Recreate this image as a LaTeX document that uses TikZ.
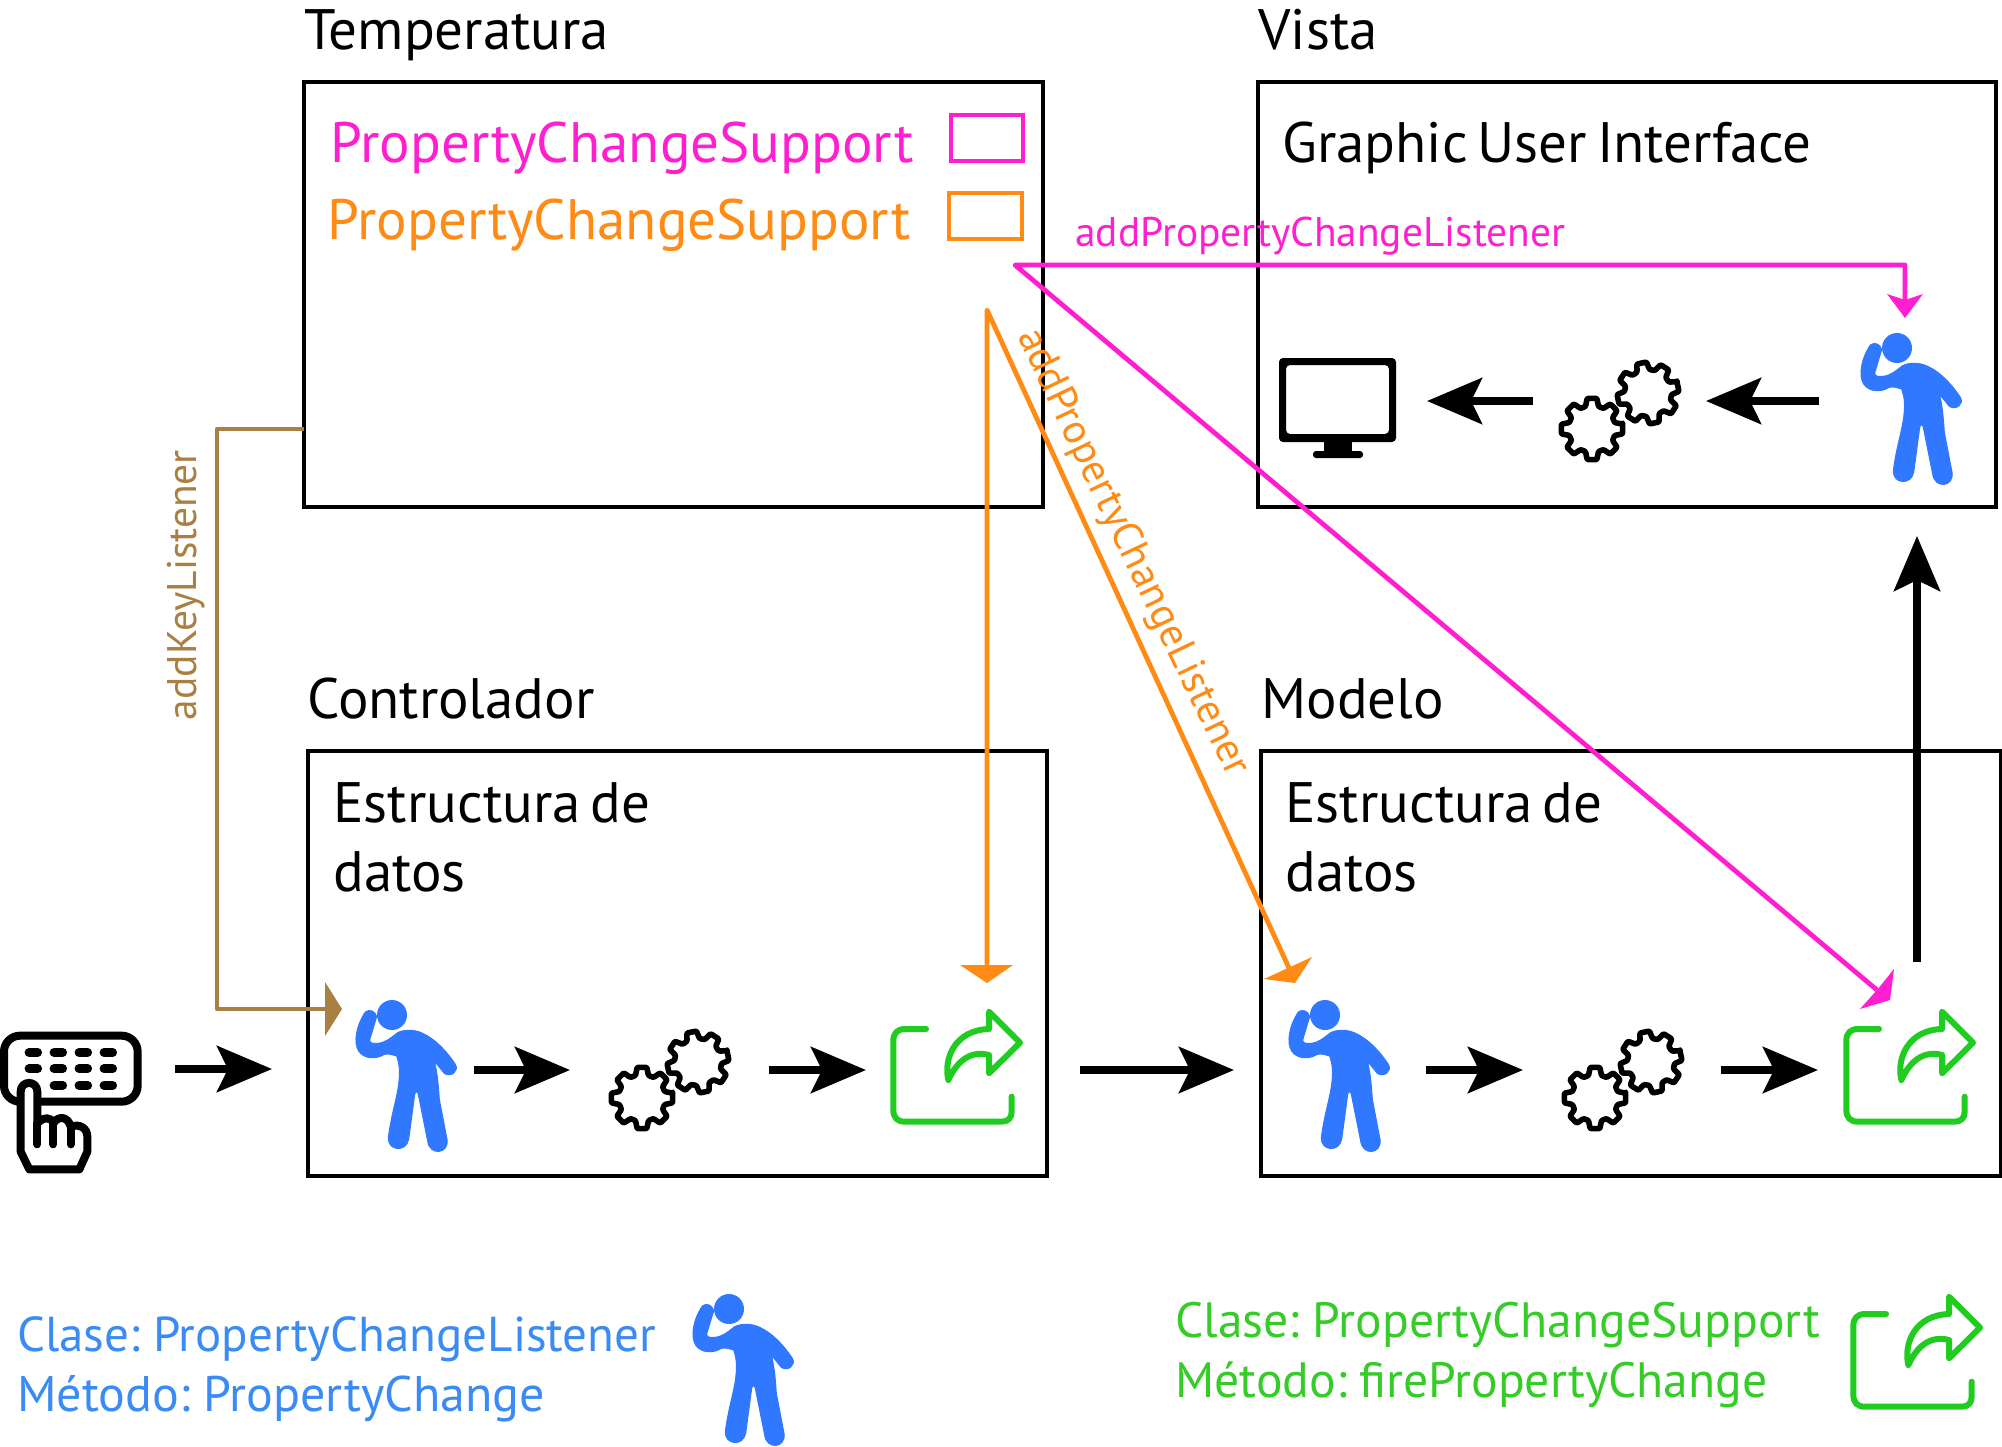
\documentclass[tikz,border=0pt]{standalone}
\usepackage{fontspec}
\setmainfont{PT Sans}[WordSpace=0.65]
\usetikzlibrary{arrows.meta,calc}
\definecolor{bluep}{HTML}{2F78FF}
\definecolor{bluet}{HTML}{3B8BF5}
\definecolor{greenp}{HTML}{1FCC1F}
\definecolor{greent}{HTML}{35CC28}
\definecolor{magp}{HTML}{FF1FD0}
\definecolor{orgp}{HTML}{FF8A14}
\definecolor{brwn}{HTML}{A97F42}
\newcommand{\bigfs}{\fontsize{28.5}{33}\selectfont}
\newcommand{\legfs}{\fontsize{24.8}{29}\selectfont}
\newcommand{\legsfs}{\fontsize{24.5}{29}\selectfont}
\newcommand{\legbfs}{\fontsize{25}{29}\selectfont}
\newcommand{\smallfs}{\fontsize{20.7}{24}\selectfont}
\tikzset{
  boxn/.style={draw=black,line width=2pt,inner sep=0pt,outer sep=0pt,anchor=north west,fill=none},
  txt/.style={anchor=base west,inner sep=0pt,font=\bigfs},
  legtxt/.style={anchor=base west,inner sep=0pt,font=\legfs},
  lab/.style={inner sep=0pt,font=\smallfs},
  blackarrow/.style={line width=4pt,-{Stealth[length=27.5pt,width=23pt,inset=5.5pt]}},
  magline/.style={draw=magp,line width=2.4pt,line join=round},
  orgline/.style={draw=orgp,line width=2.4pt,line join=round},
  pics/personicon/.style={code={
    \begin{scope}[scale=1/3,shift={(-208,-57)}]
      \fill[bluep] (208,57) circle (45);
      \filldraw[bluep,line width=0.5pt,line join=round] (128,48) .. controls (140,38) and (158,45) .. (162,62)
        -- (141,132) .. controls (141,142) and (150,143) .. (165,142)
        .. controls (190,140) and (205,125) .. (225,110)
        .. controls (245,100) and (275,100) .. (300,112)
        .. controls (340,130) and (375,170) .. (398,205)
        .. controls (410,225) and (385,245) .. (365,232)
        -- (335,195) .. controls (345,235) and (347,270) .. (350,310)
        -- (373,430) .. controls (380,475) and (320,480) .. (315,435)
        -- (287,295) .. controls (285,285) and (278,285) .. (276,295)
        -- (258,430) .. controls (250,470) and (195,465) .. (197,425)
        .. controls (205,360) and (222,310) .. (228,265)
        .. controls (232,230) and (232,210) .. (222,180)
        .. controls (205,175) and (195,172) .. (185,175)
        .. controls (160,190) and (125,190) .. (108,165)
        .. controls (92,140) and (100,90) .. (128,48) -- cycle;
    \end{scope}}},
  pics/shareicon/.style={code={
    \begin{scope}[scale=1/3]
      \draw[greenp,line width=3pt,line cap=round,line join=round]
        (138,102) -- (75,102) .. controls (52,102) and (40,115) .. (40,137)
        -- (40,345) .. controls (40,368) and (52,380) .. (75,380)
        -- (365,380) .. controls (385,380) and (395,368) .. (395,350) -- (395,305);
      \draw[greenp,line width=3pt,line cap=round,line join=round]
        (205,255) .. controls (190,190) and (225,105) .. (327,102)
        -- (327,50) -- (420,143) -- (327,235) -- (327,180)
        .. controls (270,165) and (230,200) .. (205,255) -- cycle;
    \end{scope}}},
  pics/gearicon/.style={code={
    \draw[line width=2.8pt,line join=round,rounded corners=0.5pt]
      (-9:31) \foreach \a in {0,45,...,315} { -- (\a-9:31) -- (\a+9:31) -- (\a+16:23.5) -- (\a+29:23.5)} -- cycle;
    \begin{scope}[shift={(56,-36)},rotate=12]
    \draw[line width=2.8pt,line join=round,rounded corners=0.5pt]
      (-9:31) \foreach \a in {0,45,...,315} { -- (\a-9:31) -- (\a+9:31) -- (\a+16:23.5) -- (\a+29:23.5)} -- cycle;
    \end{scope}}},
}
\begin{document}
\begin{tikzpicture}[x=0.5pt,y=-0.5pt]
\useasboundingbox[fill=white] (0,0) rectangle (2002,1446);
% boxes
\node[boxn,minimum width=369.5pt,minimum height=212.5pt] (temp) at (304,82) {};
\node[boxn,minimum width=369pt,minimum height=212.5pt] (vista) at (1258,82) {};
\node[boxn,minimum width=369.5pt,minimum height=212.5pt] (ctrl) at (308,751) {};
\node[boxn,minimum width=370pt,minimum height=212.5pt] (model) at (1261,751) {};
% titles
\node[txt] (t1) at (304,49) {Temperatura};
\node[txt] (t2) at (1258,49) {Vista};
\node[txt] (t3) at (307,718) {Controlador};
\node[txt] (t4) at (1261,718) {Modelo};
\node[txt] (gui) at (1282,162) {Graphic User Interface};
\node[txt] (e1) at (333,822) {Estructura de};
\node[txt] (d1) at (333,891) {datos};
\node[txt] (e2) at (1285,822) {Estructura de};
\node[txt] (d2) at (1285,891) {datos};
\node[txt,text=magp] (pcs1) at (330,162) {PropertyChangeSupport};
\node[txt,text=orgp] (pcs2) at (327,239) {PropertyChangeSupport};
\node[draw=magp,line width=2pt,inner sep=0pt,outer sep=0pt,anchor=north west,minimum width=36pt,minimum height=23pt] (mrect) at (951,115) {};
\node[draw=orgp,line width=2pt,inner sep=0pt,outer sep=0pt,anchor=north west,minimum width=36.5pt,minimum height=23pt] (orect) at (949,193) {};
% legend
\node[legtxt,text=bluet,font=\legsfs] (l1) at (17,1351) {Clase: PropertyChangeListener};
\node[legtxt,text=bluet,font=\legbfs] (l2) at (17,1411) {Método: PropertyChange};
\node[legtxt,text=greent] (l3) at (1175,1337) {Clase: PropertyChangeSupport};
\node[legtxt,text=greent] (l4) at (1175,1397) {Método: firePropertyChange};
% icons
\pic at (392,1015) {personicon};
\pic at (1325,1015) {personicon};
\pic at (1897,348) {personicon};
\pic at (729,1309) {personicon};
\pic at (880,995) {shareicon};
\pic at (1833,995) {shareicon};
\pic at (1840,1280) {shareicon};
\pic at (642,1098) {gearicon};
\pic at (1595,1098) {gearicon};
\pic at (1592,429) {gearicon};
% monitor
\fill[even odd rule,rounded corners=2pt] (1279,358) rectangle (1396,442) (1286,365) rectangle (1389,434);
\fill (1324,442) rectangle (1352,452);
\fill[rounded corners=1.5pt] (1313,451) rectangle (1363,458);
% keyboard
\begin{scope}[shift={(0,960)},scale=1/3]
  \draw[line width=4pt,rounded corners=8pt] (12,227) rectangle (413,425);
  \foreach \x in {100,175,250,325}{
    \draw[line width=4.4pt,line cap=round] (\x-13,277) -- (\x+13,277);
    \draw[line width=4.4pt,line cap=round] (\x-13,326) -- (\x+13,326);}
  \foreach \x in {175,250,325}
    \draw[line width=4.4pt,line cap=round] (\x-13,376) -- (\x+13,376);
  \draw[line width=4pt,line join=round,fill=white,line cap=round]
    (62,395) .. controls (62,360) and (112,360) .. (112,395) -- (112,490)
    .. controls (130,470) and (155,470) .. (160,490)
    .. controls (175,465) and (205,470) .. (212,500)
    .. controls (240,490) and (262,505) .. (262,530)
    -- (262,575) -- (238,628) -- (88,628) -- (62,575) -- cycle;
  \draw[line width=4pt,line cap=round] (112,490) -- (112,553);
  \draw[line width=4pt,line cap=round] (160,490) -- (160,553);
  \draw[line width=4pt,line cap=round] (212,500) -- (212,553);
\end{scope}
% arrow end points
\coordinate (a1s) at (175,1069); \coordinate (a1e) at (272,1069);
\coordinate (a2s) at (474,1070); \coordinate (a2e) at (570,1070);
\coordinate (a3s) at (769,1070); \coordinate (a3e) at (866,1070);
\coordinate (a4s) at (1080,1070); \coordinate (a4e) at (1234,1070);
\coordinate (a5s) at (1426,1070); \coordinate (a5e) at (1523,1070);
\coordinate (a6s) at (1721,1070); \coordinate (a6e) at (1818,1070);
\coordinate (a7s) at (1533,401); \coordinate (a7e) at (1427,401);
\coordinate (a8s) at (1819,401); \coordinate (a8e) at (1706,401);
\coordinate (a9s) at (1917,962); \coordinate (a9e) at (1917,536);
\foreach \n in {1,...,9} \draw[blackarrow] (a\n s) -- (a\n e);
% brown
\coordinate (bk1) at (217,429);
\coordinate (bk2) at (217,1009);
\coordinate (bend) at (328,1009);
\draw[brwn,line width=2.3pt,line join=round] (temp.west |- bk1) -- (bk1) -- (bk2) -- (bend);
\fill[brwn] (325,982) -- (342,1009) -- (325,1036) -- cycle;
\node[lab,text=brwn,rotate=90] (kl) at (186,585) {addKeyListener};
% orange
\coordinate (os) at (987,310);
\coordinate (oe) at (987,968);
\coordinate (oe2) at (1289,968);
\draw[orgline] (oe) -- (os) -- (oe2);
\fill[orgp] (960,965) -- (1013,965) -- (987,983) -- cycle;
\fill[orgp] (1264,979) -- (1312,957) -- (1295,983) -- cycle;
\node[lab,text=orgp,rotate=-64.5] (ol) at (1132,553) {addPropertyChangeListener};
% magenta
\coordinate (ms) at (1015,265);
\coordinate (mc) at (1905,265);
\coordinate (me) at (1905,300);
\coordinate (me2) at (1877,990);
\draw[magline] (me) -- (mc) -- (ms) -- (me2);
\fill[magp] (1887,294) -- (1905,300) -- (1923,294) -- (1905,318) -- cycle;
\fill[magp] (1894,969) -- (1890,1000) -- (1860,1009) -- (1877,990) -- cycle;
\node[lab,text=magp,anchor=base west] (ml) at (1075,246) {addPropertyChangeListener};
\end{tikzpicture}
\end{document}
